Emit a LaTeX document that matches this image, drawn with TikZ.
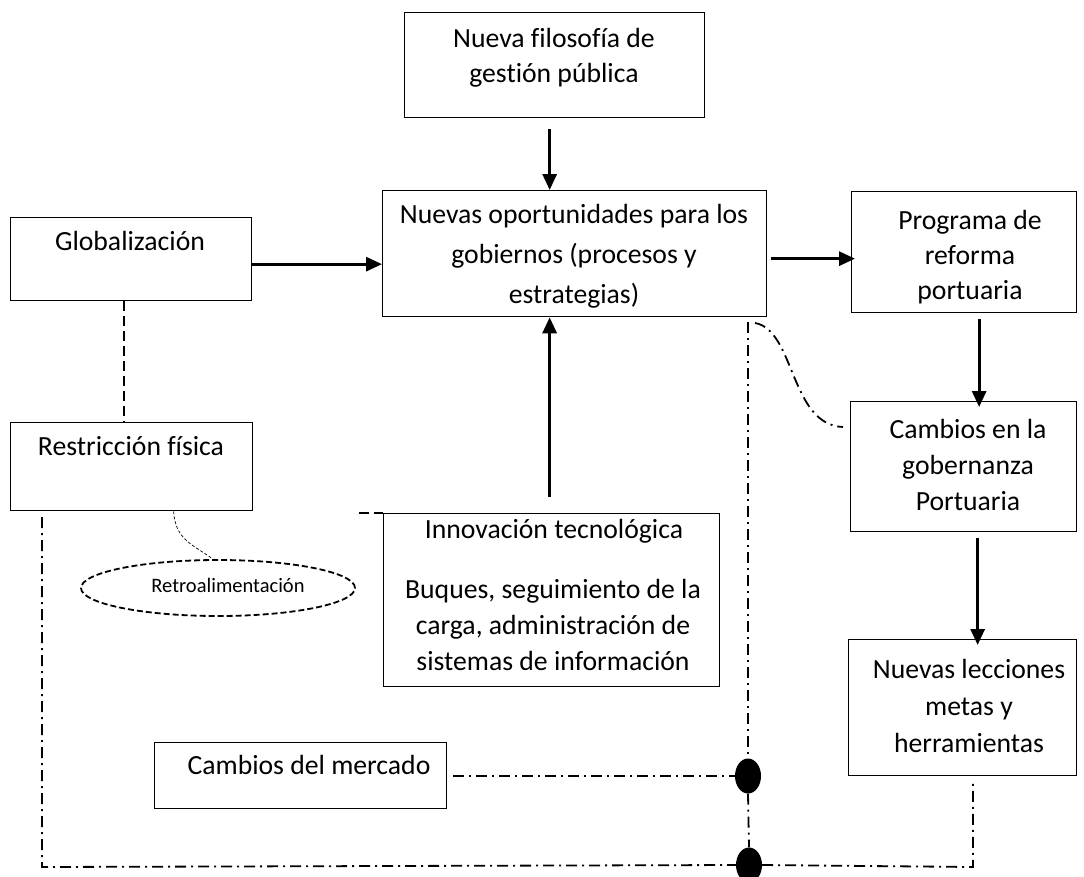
\documentclass[tikz,border=0pt]{standalone}
\usepackage{fontspec}
\setmainfont{Carlito}[Ligatures=NoCommon]
\usetikzlibrary{arrows.meta,shapes.geometric}
\begin{document}
\begin{tikzpicture}[x=1pt,y=-1pt,
  box/.style={draw, line width=1.3pt, inner sep=0pt, anchor=north west},
  txt/.style={font=\fontsize{27.7}{36}\selectfont, align=center, inner sep=0pt},
  arr/.style={-{Triangle[length=16pt,width=14pt]}, line width=3pt},
  dd/.style={line width=1.8pt, dash pattern=on 11pt off 5pt on 2pt off 5pt},
  dsh/.style={line width=1.8pt, dash pattern=on 10pt off 5pt},
  dot/.style={ellipse, fill=black, inner sep=0pt, minimum width=26pt, minimum height=35pt},
]
\useasboundingbox (0,0) rectangle (1084,876);

% boxes
\node[box, minimum width=300pt, minimum height=105pt] (filo) at (404,12) {};
\node[box, minimum width=241pt, minimum height=83pt] (glob) at (10,217) {};
\node[box, minimum width=384pt, minimum height=126pt] (nuev) at (382,190) {};
\node[box, minimum width=225pt, minimum height=121pt] (prog) at (851,191) {};
\node[box, minimum width=242pt, minimum height=88pt] (restr) at (10,422) {};
\node[box, minimum width=226pt, minimum height=130pt] (gober) at (850,401) {};
\node[box, minimum width=336pt, minimum height=173pt] (innov) at (383,513) {};
\node[box, minimum width=228pt, minimum height=136pt] (lecc) at (848,639) {};
\node[box, minimum width=292pt, minimum height=66pt] (merc) at (154,742) {};
\node[ellipse, draw, line width=1.8pt, dash pattern=on 6pt off 3pt, minimum width=274pt, minimum height=56pt, inner sep=0pt] (retro) at (218,588) {};

% texts
\node[txt, font=\fontsize{27.7}{35}\selectfont] (filoT) at (554,58) {Nueva filosofía de\\gestión pública};
\node[txt] (globT) at (130,241) {Globalización};
\node[txt, font=\fontsize{27.7}{40}\selectfont] (nuevT) at (574,256) {Nuevas oportunidades para los\\gobiernos (procesos y\\estrategias)};
\node[txt, font=\fontsize{27.7}{35}\selectfont] (progT) at (970,257) {Programa de\\reforma\\portuaria};
\node[txt] (restrT) at (131,446) {Restricción física};
\node[txt] (goberT) at (968,465) {Cambios en la\\gobernanza\\Portuaria};
\node[txt] (innovT1) at (554,531) {Innovación tecnológica};
\node[txt] (innovT2) at (553,625) {Buques, seguimiento de la\\carga, administración de\\sistemas de información};
\node[txt, font=\fontsize{27.7}{37}\selectfont] (leccT) at (969,706) {Nuevas lecciones\\metas y\\herramientas};
\node[txt] (mercT) at (309,765) {Cambios del mercado};
\node[font=\fontsize{20.5}{24}\selectfont, inner sep=0pt] (retroT) at (228,585) {Retroalimentación};

% arrows
\draw[arr] ([xshift=-5pt,yshift=-11pt]filo.south) -- ([xshift=-25pt]nuev.north);
\draw[arr] ([yshift=-5pt]glob.east) -- ([yshift=-5pt]glob.east -| nuev.west);
\draw[arr] ([xshift=4pt,yshift=-5pt]nuev.east) -- ([xshift=4pt,yshift=-5pt]nuev.east -| prog.west);
\draw[arr] ([xshift=-2pt,yshift=16pt]innov.north) -- ([xshift=-2pt]innov.north |- nuev.south);
\draw[arr] ([xshift=15pt,yshift=-6pt]prog.south) -- ([xshift=15pt,yshift=-6pt]prog.south |- gober.north);
\draw[arr] ([xshift=14pt,yshift=-6pt]gober.south) -- ([xshift=14pt,yshift=-6pt]gober.south |- lecc.north);

% dashed links
\draw[dsh] ([xshift=-7pt]glob.south) -- ([xshift=-7pt]glob.south |- restr.north);
\draw[dsh] ([xshift=-24pt]innov.north west) -- (innov.north west);
\draw[line width=0.7pt, dash pattern=on 3pt off 2pt] ([xshift=42pt]restr.south) .. controls (175,540) and (194,545) .. (retro.100);

% dash-dot network
\node[dot] (dot1) at (748,776) {};
\node[dot] (dot2) at (749,865) {};
\coordinate (vtop) at (748,322);
\coordinate (ctop) at (755,323);
\coordinate (cend) at (843,427);
\coordinate (ltop) at (42,517);
\coordinate (bl) at (42,867);
\coordinate (br) at (973,867);
\coordinate (rtop) at (973,783);
\draw[dd] (vtop) -- (dot1.north);
\draw[dd] (dot1.south) -- (dot2.north);
\draw[dd] (ctop) .. controls (795,330) and (790,425) .. (cend);
\draw[dd] ([xshift=6pt]merc.east |- dot1.west) -- (dot1.west);
\draw[dd] (ltop) -- (bl) -- (dot2.west);
\draw[dd] (dot2.east) -- (br) -- (rtop);
\end{tikzpicture}
\end{document}
